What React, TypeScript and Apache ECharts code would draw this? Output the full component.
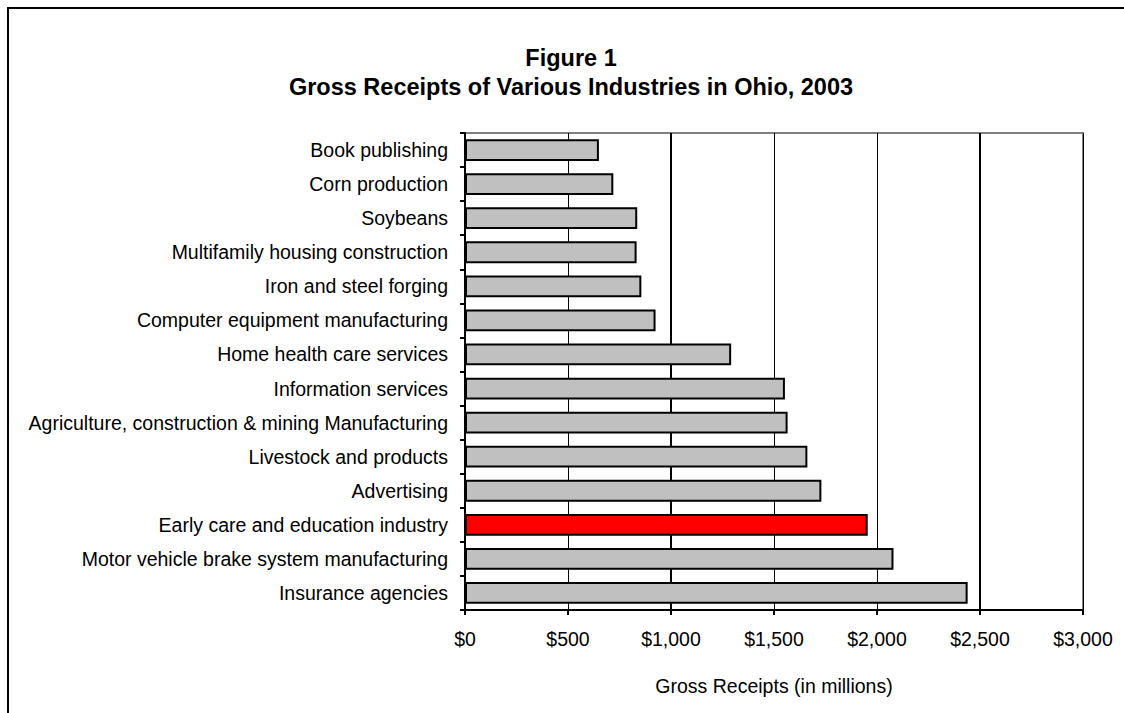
import React, { useEffect, useRef } from "react";
import * as echarts from "echarts";

const titleLine1 = "Figure 1";
const titleLine2 = "Gross Receipts of Various Industries in Ohio, 2003";
const axisTitle = "Gross Receipts (in millions)";

const categories = [
  "Book publishing",
  "Corn production",
  "Soybeans",
  "Multifamily housing construction",
  "Iron and steel forging",
  "Computer equipment manufacturing",
  "Home health care services",
  "Information services",
  "Agriculture, construction & mining Manufacturing",
  "Livestock and products",
  "Advertising",
  "Early care and education industry",
  "Motor vehicle brake system manufacturing",
  "Insurance agencies",
];

const values = [650, 720, 836, 833, 856, 925, 1292, 1553, 1566, 1662, 1730, 1955, 2080, 2440];

const highlighted = "Early care and education industry";

const xMin = 0;
const xMax = 3000;
const xStep = 500;
const emphasisGridValues = [1000, 2500];

const FONT = "'Liberation Sans', Arial, sans-serif";

export default function App() {
  const ref = useRef<HTMLDivElement>(null);

  useEffect(() => {
    if (!ref.current) return;
    const chart = echarts.init(ref.current, undefined, { renderer: "svg" });
    chart.setOption({
      animation: false,
      backgroundColor: "#ffffff",
      title: {
        text: titleLine1 + "\n" + titleLine2,
        left: 566,
        top: 38,
        textAlign: "center",
        textStyle: {
          fontFamily: FONT,
          fontWeight: "bold",
          fontSize: 23.5,
          lineHeight: 29,
          color: "#000",
        },
      },
      graphic: [
        {
          type: "polyline",
          shape: { points: [[8, 713], [8, 8], [1124, 8]] },
          style: { stroke: "#000", lineWidth: 2, fill: "none" },
          silent: true,
        },
      ],
      grid: {
        left: 465,
        right: 41,
        top: 133,
        bottom: 103,
        show: true,
        borderColor: "#808080",
        borderWidth: 2,
        backgroundColor: "transparent",
      },
      xAxis: {
        type: "value",
        min: xMin,
        max: xMax,
        interval: xStep,
        name: axisTitle,
        nameLocation: "middle",
        nameGap: 66,
        nameTextStyle: { fontFamily: FONT, fontSize: 19.5, color: "#000" },
        axisLine: { show: true, lineStyle: { color: "#000", width: 2 } },
        axisTick: { show: true, length: 5, lineStyle: { color: "#000", width: 2 } },
        axisLabel: {
          fontFamily: FONT,
          fontSize: 19.5,
          color: "#000",
          margin: 19,
          formatter: (v: number) => "$" + v.toLocaleString("en-US"),
        },
        splitLine: { show: true, lineStyle: { color: "#000", width: 1 } },
      },
      yAxis: {
        type: "category",
        data: categories,
        inverse: true,
        axisLine: { show: true, lineStyle: { color: "#000", width: 2 } },
        axisTick: { show: true, length: 5, lineStyle: { color: "#000", width: 2 } },
        axisLabel: { fontFamily: FONT, fontSize: 19.5, color: "#000", margin: 17 },
        splitLine: { show: false },
      },
      series: [
        {
          type: "scatter",
          data: [],
          z: 1,
          silent: true,
          markLine: {
            z: 1,
            silent: true,
            symbol: "none",
            label: { show: false },
            lineStyle: { color: "#000", width: 2, type: "solid" },
            data: emphasisGridValues.map((v) => ({ xAxis: v })),
          },
        },
        {
          type: "bar",
          z: 3,
          barWidth: "64%",
          data: values.map((v, i) => ({
            value: v,
            itemStyle: {
              color: categories[i] === highlighted ? "#ff0000" : "#c0c0c0",
              borderColor: "#000",
              borderWidth: 2,
            },
          })),
        },
      ],
    });
    return () => chart.dispose();
  }, []);

  return (
    <div
      ref={ref}
      style={{ position: "absolute", left: 0, top: 0, width: 1124, height: 713 }}
    />
  );
}
